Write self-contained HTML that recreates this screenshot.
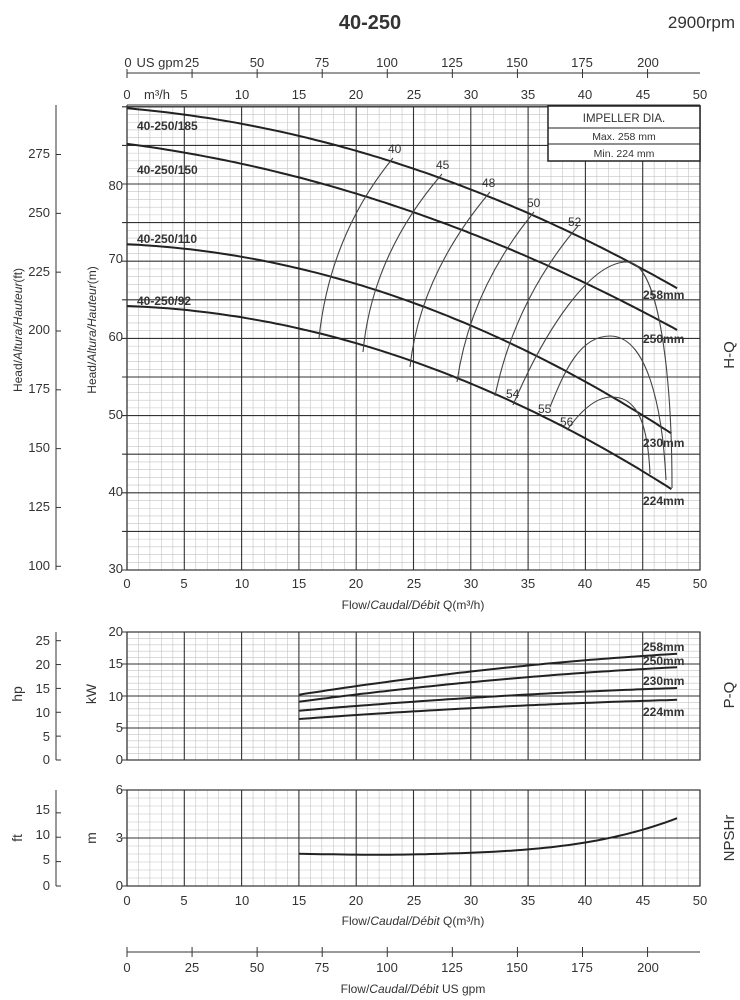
<!DOCTYPE html>
<html><head><meta charset="utf-8">
<style>
html,body{margin:0;padding:0;background:#fff;}
svg{display:block;font-family:"Liberation Sans",sans-serif;}
text{fill:#333;}
</style></head>
<body>
<svg id="s" width="740" height="1000" viewBox="0 0 740 1000" xmlns="http://www.w3.org/2000/svg">
<g id="grid"></g>
<g id="curves" fill="none" stroke="#222"></g>
<!-- titles -->
<text x="370" y="29" font-size="20" font-weight="bold" text-anchor="middle" fill="#222">40-250</text>
<text x="735" y="28" font-size="17" text-anchor="end">2900rpm</text>
<!-- top gpm axis -->
<line x1="127" y1="73" x2="700" y2="73" stroke="#333"/>
<g font-size="13" text-anchor="middle">
<text x="128" y="67">0</text><text x="160" y="67">US gpm</text>
<text x="192" y="67">25</text><text x="257" y="67">50</text><text x="322" y="67">75</text>
<text x="387" y="67">100</text><text x="452" y="67">125</text><text x="517" y="67">150</text>
<text x="582" y="67">175</text><text x="648" y="67">200</text>
</g>
<g font-size="13" text-anchor="middle">
<text x="127" y="99">0</text><text x="157" y="99">m³/h</text><text x="184" y="99">5</text>
<text x="242" y="99">10</text><text x="299" y="99">15</text><text x="356" y="99">20</text>
<text x="414" y="99">25</text><text x="471" y="99">30</text><text x="528" y="99">35</text>
<text x="585" y="99">40</text><text x="643" y="99">45</text><text x="700" y="99">50</text>
</g>
<!-- impeller box -->
<rect x="548" y="106" width="152" height="55" fill="#fff" stroke="#222" stroke-width="1.5"/>
<line x1="548" y1="128" x2="700" y2="128" stroke="#222"/>
<line x1="548" y1="144" x2="700" y2="144" stroke="#222"/>
<text x="624" y="122" font-size="11.5" text-anchor="middle">IMPELLER DIA.</text>
<text x="624" y="140" font-size="10.5" text-anchor="middle">Max.  258  mm</text>
<text x="624" y="157" font-size="10.5" text-anchor="middle">Min.  224  mm</text>
<!-- model labels -->
<g font-size="12" font-weight="bold" fill="#222">
<text x="137" y="130">40-250/185</text>
<text x="137" y="174">40-250/150</text>
<text x="137" y="243">40-250/110</text>
<text x="137" y="305">40-250/92</text>
</g>
<g font-size="12" font-weight="bold" fill="#222">
<text x="643" y="299">258mm</text>
<text x="643" y="343">250mm</text>
<text x="643" y="447">230mm</text>
<text x="643" y="505">224mm</text>
</g>
<g font-size="12">
<text x="388" y="153">40</text><text x="436" y="169">45</text><text x="482" y="187">48</text>
<text x="527" y="207">50</text><text x="568" y="226">52</text>
<text x="506" y="398">54</text><text x="538" y="413">55</text><text x="560" y="426">56</text>
</g>
<!-- left axes H -->
<line x1="56" y1="105" x2="56" y2="570" stroke="#333"/>
<g font-size="13" text-anchor="end">
<text x="50" y="158">275</text><text x="50" y="217">250</text><text x="50" y="276">225</text>
<text x="50" y="334">200</text><text x="50" y="393">175</text><text x="50" y="452">150</text>
<text x="50" y="511">125</text><text x="50" y="570">100</text>
<text x="123" y="190">80</text><text x="123" y="263">70</text><text x="123" y="341">60</text>
<text x="123" y="419">50</text><text x="123" y="496">40</text><text x="123" y="573">30</text>
</g>
<text transform="translate(22,330) rotate(-90)" font-size="12" text-anchor="middle">Head/<tspan font-style="italic">Altura/Hauteur</tspan>(ft)</text>
<text transform="translate(96,330) rotate(-90)" font-size="12" text-anchor="middle">Head/<tspan font-style="italic">Altura/Hauteur</tspan>(m)</text>
<text transform="translate(734,355) rotate(-90)" font-size="15" text-anchor="middle">H-Q</text>
<g font-size="13" text-anchor="middle">
<text x="127" y="588">0</text><text x="184" y="588">5</text><text x="242" y="588">10</text>
<text x="299" y="588">15</text><text x="356" y="588">20</text><text x="414" y="588">25</text>
<text x="471" y="588">30</text><text x="528" y="588">35</text><text x="585" y="588">40</text>
<text x="643" y="588">45</text><text x="700" y="588">50</text>
</g>
<text x="413" y="609" font-size="12" text-anchor="middle">Flow/<tspan font-style="italic">Caudal/Débit</tspan> Q(m³/h)</text>
<!-- P-Q -->
<line x1="56" y1="632" x2="56" y2="760" stroke="#333"/>
<g font-size="13" text-anchor="end">
<text x="50" y="645">25</text><text x="50" y="669">20</text><text x="50" y="693">15</text>
<text x="50" y="717">10</text><text x="50" y="741">5</text><text x="50" y="764">0</text>
<text x="123" y="636">20</text><text x="123" y="668">15</text><text x="123" y="701">10</text>
<text x="123" y="732">5</text><text x="123" y="764">0</text>
</g>
<text transform="translate(22,694) rotate(-90)" font-size="14" text-anchor="middle">hp</text>
<text transform="translate(96,694) rotate(-90)" font-size="14" text-anchor="middle">kW</text>
<text transform="translate(734,695) rotate(-90)" font-size="15" text-anchor="middle">P-Q</text>
<g font-size="12" font-weight="bold" fill="#222">
<text x="643" y="651">258mm</text><text x="643" y="665">250mm</text>
<text x="643" y="685">230mm</text><text x="643" y="716">224mm</text>
</g>
<!-- NPSH -->
<line x1="56" y1="790" x2="56" y2="886" stroke="#333"/>
<g font-size="13" text-anchor="end">
<text x="50" y="814">15</text><text x="50" y="839">10</text><text x="50" y="864">5</text>
<text x="50" y="890">0</text>
<text x="123" y="794">6</text><text x="123" y="842">3</text><text x="123" y="890">0</text>
</g>
<text transform="translate(22,838) rotate(-90)" font-size="14" text-anchor="middle">ft</text>
<text transform="translate(96,838) rotate(-90)" font-size="14" text-anchor="middle">m</text>
<text transform="translate(734,838) rotate(-90)" font-size="15" text-anchor="middle">NPSHr</text>
<g font-size="13" text-anchor="middle">
<text x="127" y="905">0</text><text x="184" y="905">5</text><text x="242" y="905">10</text>
<text x="299" y="905">15</text><text x="356" y="905">20</text><text x="414" y="905">25</text>
<text x="471" y="905">30</text><text x="528" y="905">35</text><text x="585" y="905">40</text>
<text x="643" y="905">45</text><text x="700" y="905">50</text>
</g>
<text x="413" y="925" font-size="12" text-anchor="middle">Flow/<tspan font-style="italic">Caudal/Débit</tspan> Q(m³/h)</text>
<!-- bottom gpm -->
<line x1="127" y1="952" x2="700" y2="952" stroke="#333"/>
<g font-size="13" text-anchor="middle">
<text x="127" y="972">0</text><text x="192" y="972">25</text><text x="257" y="972">50</text>
<text x="322" y="972">75</text><text x="387" y="972">100</text><text x="452" y="972">125</text>
<text x="517" y="972">150</text><text x="582" y="972">175</text><text x="648" y="972">200</text>
</g>
<text x="413" y="993" font-size="12" text-anchor="middle">Flow/<tspan font-style="italic">Caudal/Débit</tspan>  US gpm</text>
</svg>
<script>
var NS="http://www.w3.org/2000/svg";
var G=document.getElementById('grid'),C=document.getElementById('curves');
function el(p,tag,a){var e=document.createElementNS(NS,tag);for(var k in a)e.setAttribute(k,a[k]);p.appendChild(e);return e;}
function L(p,x1,y1,x2,y2,c,w){el(p,'line',{x1:x1,y1:y1,x2:x2,y2:y2,stroke:c,'stroke-width':w});}
var X0=127,X1=700,kx=(X1-X0)/50;
function X(q){return X0+q*kx;}
function grid(yt,yb,ny,majEvery){
  for(var i=0;i<=50;i++){var x=X(i);var maj=i%5==0;if(!maj)L(G,x,yt,x,yb,'#c4c4c4',0.6);}
  for(var j=0;j<=ny;j++){var y=yb-(yb-yt)*j/ny;if(j%majEvery)L(G,X0,y,X1,y,'#c4c4c4',0.6);}
  for(var i=0;i<=50;i+=5){L(G,X(i),yt,X(i),yb,'#333',1.1);}
  for(var j=0;j<=ny;j+=majEvery){var y=yb-(yb-yt)*j/ny;L(G,X0-5,y,X1,y,'#333',1.1);}
  el(G,'rect',{x:X0,y:yt,width:X1-X0,height:yb-yt,fill:'none',stroke:'#333','stroke-width':1.2});
}
// H chart: 30..90 m, y 570..107
var HY=function(h){return 570-(h-30)*7.72;};
grid(HY(90),570,60,5);
L(G,X0,105,X0,HY(90),'#333',1.1);L(G,X1,105,X1,HY(90),'#333',1.1);
L(G,X0,105,X1,105,'#333',1.1);
// left ft ticks
[100,125,150,175,200,225,250,275].forEach(function(f){var y=HY(f*0.3048);L(G,56,y,61,y,'#333',1);});
// P chart 0..20 kW
var PY=function(k){return 760-k*6.4;};
grid(PY(20),760,20,5);
[0,5,10,15,20,25].forEach(function(h){var y=PY(h*0.7457);L(G,56,y,61,y,'#333',1);});
// NPSH chart 0..6 m
var NY=function(m){return 886-m*16;};
grid(NY(6),886,12,6);
[0,5,10,15].forEach(function(f){var y=NY(f*0.3048);L(G,56,y,61,y,'#333',1);});
// gpm ticks
for(var g=0;g<=200;g+=25){var x=X(g*0.22712);L(G,x,69,x,78,'#333',1);L(G,x,947,x,957,'#333',1);}
function poly(pts,w,c){el(C,'polyline',{points:pts.map(function(p){return p[0].toFixed(1)+','+p[1].toFixed(1)}).join(' '),'stroke-width':w,stroke:c||'#222',fill:'none'});}
function hq(h0,a,b,qe){var p=[];for(var q=0;q<=qe+0.001;q+=0.5){p.push([X(q),HY(h0-a*q-b*q*q)]);}poly(p,2);}
hq(89.8,0.125,0.00751,48);
hq(85.2,0.1936,0.00643,48);
hq(72.2,0.0685,0.00942,47.8);
hq(64.2,0.0533,0.00939,47.8);
// efficiency lines
function path(d){el(C,'path',{d:d,'stroke-width':1.1,stroke:'#444',fill:'none'});}
path('M319,338 Q330,235 393,158');
path('M363,352 Q372,255 442,174');
path('M410,367 Q420,275 490,192');
path('M457,382 Q470,290 534,212');
path('M495,396 Q515,300 578,226');
path('M513,405 C545,330 590,262 627,262 C660,262 672,380 672,488');
path('M550,407 C565,370 580,336 610,336 C645,336 662,400 666,480');
path('M567,430 C580,412 595,397 612,397 C640,397 648,430 650,474');
// P curves
function pq(k0,k1){var p=[];for(var q=15;q<=48.01;q+=0.5){var t=(q-15)/33;var k=k0+(k1-k0)*(1.45*t-0.45*t*t);p.push([X(q),PY(k)]);}poly(p,2);}
pq(10.2,16.6);pq(9.1,14.5);pq(7.7,11.25);pq(6.4,9.4);
// NPSH
(function(){var p=[];for(var q=15;q<=48.01;q+=0.5){var m=1.95+0.0016*Math.pow(Math.max(q-21,0),2)+0.00055*Math.pow(Math.max(q-30,0),3)*0.35+(q<21?0.01*(21-q):0);p.push([X(q),NY(m)]);}poly(p,2);})();
</script>
</body></html>
